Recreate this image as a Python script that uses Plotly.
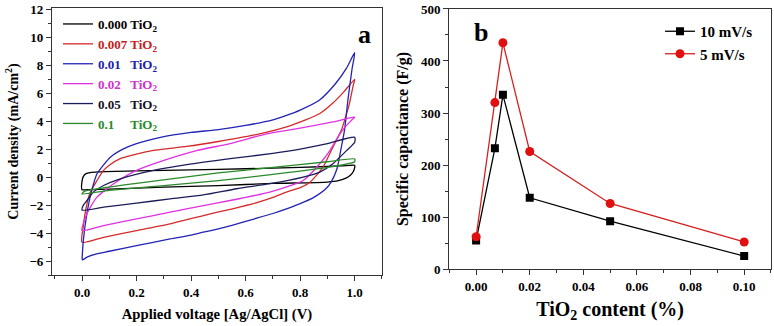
import plotly.graph_objects as go

# ---------------- Panel a: CV curves ----------------
v_000 = [0, 0, 0.005, 0.015, 0.03, 0.06, 0.2, 0.4, 0.6, 0.8, 0.95, 1.0,
         1.0, 0.995, 0.985, 0.97, 0.94, 0.9, 0.7, 0.5, 0.3, 0.1, 0.02, 0]
i_000 = [-0.9, -0.3, 0.05, 0.25, 0.33, 0.38, 0.45, 0.52, 0.6, 0.7, 0.8, 0.85,
         0.7, 0.4, 0.15, -0.05, -0.25, -0.35, -0.45, -0.6, -0.72, -0.85, -0.9, -0.9]

v_007 = [0, 0.005, 0.015, 0.03, 0.055, 0.079, 0.1, 0.14, 0.2, 0.262, 0.384, 0.5, 0.628, 0.75, 0.82, 0.872, 0.92, 0.96, 1.0,
         0.995, 0.98, 0.965, 0.951, 0.92, 0.884, 0.836, 0.8, 0.75, 0.7, 0.628, 0.543, 0.445, 0.323, 0.2, 0.079, 0]
i_007 = [-4.66, -3.5, -2.2, -1.1, -0.24, 0.48, 0.85, 1.32, 1.65, 1.91, 2.2, 2.55, 3.0, 3.6, 4.1, 4.55, 5.3, 6.1, 7.0,
         6.6, 5.2, 4.2, 3.35, 2.15, 0.72, -0.36, -0.75, -1.07, -1.45, -1.9, -2.3, -2.75, -3.34, -3.82, -4.3, -4.66]

v_010 = [0, 0.005, 0.018, 0.035, 0.055, 0.08, 0.104, 0.15, 0.2, 0.3, 0.4, 0.5, 0.6, 0.7, 0.75, 0.8, 0.87, 0.93, 0.97, 1.0,
         0.99, 0.975, 0.963, 0.951, 0.935, 0.915, 0.896, 0.85, 0.8, 0.75, 0.7, 0.63, 0.55, 0.5, 0.445, 0.4, 0.323, 0.2, 0.1, 0.05, 0.02, 0]
i_010 = [-5.9, -4.5, -2.6, -1.0, 0.24, 0.9, 1.43, 2.0, 2.4, 2.9, 3.2, 3.4, 3.7, 4.1, 4.42, 4.8, 5.5, 6.7, 7.8, 8.9,
         7.7, 5.5, 3.4, 2.15, 0.6, -0.3, -0.8, -1.45, -1.9, -2.27, -2.6, -3.0, -3.45, -3.7, -3.94, -4.15, -4.42, -4.9, -5.3, -5.5, -5.7, -5.95]

v_020 = [0, 0.005, 0.018, 0.035, 0.055, 0.08, 0.116, 0.2, 0.3, 0.42, 0.543, 0.677, 0.8, 0.92, 1.0,
         0.99, 0.97, 0.946, 0.909, 0.872, 0.811, 0.75, 0.689, 0.6, 0.543, 0.445, 0.323, 0.2, 0.079, 0]
i_020 = [-3.82, -3.3, -2.62, -2.0, -1.43, -1.0, -0.47, 0.48, 1.2, 1.9, 2.4, 3.1, 3.5, 3.95, 4.3,
         4.1, 3.7, 3.1, 1.9, 0.96, -0.24, -0.7, -1.07, -1.45, -1.67, -2.03, -2.51, -2.98, -3.46, -3.82]

v_050 = [0, 0.005, 0.018, 0.04, 0.079, 0.14, 0.262, 0.384, 0.543, 0.7, 0.8, 0.9, 1.0,
         1.0, 0.97, 0.92, 0.872, 0.811, 0.689, 0.567, 0.445, 0.323, 0.2, 0.079, 0]
i_050 = [-2.35, -2.0, -1.67, -1.1, -0.6, -0.12, 0.48, 0.89, 1.32, 1.7, 2.0, 2.4, 2.85,
         2.5, 1.9, 0.96, 0.36, 0.0, -0.47, -0.83, -1.27, -1.55, -1.86, -2.15, -2.35]

v_100 = [0, 0.01, 0.05, 0.2, 0.4, 0.5, 0.7, 0.9, 1.0,
         1.0, 0.9, 0.7, 0.5, 0.3, 0.1, 0]
i_100 = [-1.2, -1.0, -0.85, -0.45, 0.05, 0.3, 0.7, 1.1, 1.3,
         1.1, 0.7, 0.2, -0.25, -0.6, -0.95, -1.2]

cv_labels = ["0.000 TiO<sub>2</sub>", "0.007 TiO<sub>2</sub>", "0.01   TiO<sub>2</sub>",
             "0.02   TiO<sub>2</sub>", "0.05   TiO<sub>2</sub>", "0.1     TiO<sub>2</sub>"]
cv_colors = ["#000000", "#d42a2a", "#2323b4", "#e030e0", "#1c1c5a", "#2a8a2a"]
cv_text_colors = ["#000000", "#c62020", "#2020b0", "#d030d0", "#111122", "#2a8a2a"]

# ---------------- Panel b: capacitance ----------------
tio2_content = [0, 0.007, 0.01, 0.02, 0.05, 0.1]
cap_10mv = [55, 232, 335, 137, 92, 25]
cap_5mv = [62, 320, 435, 226, 126, 52]

FONT = "Liberation Serif"

fig = go.Figure()

cv_data = [(v_000, i_000), (v_007, i_007), (v_010, i_010), (v_020, i_020), (v_050, i_050), (v_100, i_100)]
for (vv, ii), lab, col, tcol in zip(cv_data, cv_labels, cv_colors, cv_text_colors):
    fig.add_trace(go.Scatter(
        x=vv, y=ii, mode="lines", line=dict(color=col, width=1.3, shape="spline", smoothing=0.6),
        name=f"<span style='color:{tcol}'>{lab}</span>", legend="legend",
        xaxis="x", yaxis="y"))

fig.add_trace(go.Scatter(
    x=tio2_content, y=cap_10mv, mode="lines+markers", name="10 mV/s",
    line=dict(color="black", width=1.3), marker=dict(symbol="square", size=8, color="black"),
    legend="legend2", xaxis="x2", yaxis="y2"))
fig.add_trace(go.Scatter(
    x=tio2_content, y=cap_5mv, mode="lines+markers", name="5 mV/s",
    line=dict(color="#d42020", width=1.3), marker=dict(symbol="circle", size=9, color="#e01010"),
    legend="legend2", xaxis="x2", yaxis="y2"))

tickfont = dict(family=FONT, size=13, color="black", weight="bold")
axis_common = dict(showline=True, linecolor="#333333", linewidth=1.2, mirror=True,
                   ticks="outside", ticklen=5, tickwidth=1.2, tickcolor="#333333",
                   showgrid=False, zeroline=False, tickfont=tickfont, automargin=False)

fig.update_layout(
    width=774, height=326,
    margin=dict(l=0, r=0, t=0, b=0, autoexpand=False),
    paper_bgcolor="white", plot_bgcolor="white",
    font=dict(family=FONT, color="black"),
    xaxis=dict(domain=[0.0672, 0.4935], anchor="y", range=[-0.11, 1.1],
               tickvals=[0, 0.2, 0.4, 0.6, 0.8, 1.0], ticktext=["0.0", "0.2", "0.4", "0.6", "0.8", "1.0"],
               minor=dict(dtick=0.1, tick0=0, ticks="outside", ticklen=3, tickcolor="#333333"),
               title=dict(text="Applied voltage [Ag/AgCl] (V)", font=dict(family=FONT, size=14.7, weight="bold"), standoff=9),
               **axis_common),
    yaxis=dict(domain=[0.1564, 0.9755], anchor="x", range=[-7, 12.1],
               tickvals=[-6, -4, -2, 0, 2, 4, 6, 8, 10, 12],
               minor=dict(dtick=1, tick0=0, ticks="outside", ticklen=3, tickcolor="#333333"),
               title=dict(text="Current density (mA/cm<sup>2</sup>)", font=dict(family=FONT, size=14, weight="bold"), standoff=7),
               **axis_common),
    xaxis2=dict(domain=[0.5805, 0.9961], anchor="y2", range=[-0.01, 0.11],
                tickvals=[0, 0.02, 0.04, 0.06, 0.08, 0.10], ticktext=["0.00", "0.02", "0.04", "0.06", "0.08", "0.10"],
                minor=dict(dtick=0.01, tick0=0, ticks="outside", ticklen=3, tickcolor="#333333"),
                title=dict(text="TiO<sub>2</sub> content (%)", font=dict(family=FONT, size=20, weight="bold"), standoff=9),
                **axis_common),
    yaxis2=dict(domain=[0.1748, 0.9724], anchor="x2", range=[0, 500],
                tickvals=[0, 100, 200, 300, 400, 500],
                minor=dict(dtick=50, tick0=0, ticks="outside", ticklen=3, tickcolor="#333333"),
                title=dict(text="Specific capacitance (F/g)", font=dict(family=FONT, size=16, weight="bold"), standoff=8),
                **axis_common),
    legend=dict(x=58 / 774, y=1 - 9 / 326, xanchor="left", yanchor="top", bgcolor="rgba(0,0,0,0)",
                font=dict(family=FONT, size=13, weight="bold"), itemwidth=30, tracegroupgap=0),
    legend2=dict(x=660 / 774, y=1 - 15 / 326, xanchor="left", yanchor="top", bgcolor="rgba(0,0,0,0)",
                 font=dict(family=FONT, size=15, weight="bold"), itemwidth=30),
    showlegend=True,
    annotations=[
        dict(text="<b>a</b>", x=0.948, y=0.899, xref="x domain", yref="y domain", showarrow=False,
             xanchor="center", yanchor="middle", font=dict(family=FONT, size=26, color="black")),
        dict(text="<b>b</b>", x=0.10, y=0.908, xref="x2 domain", yref="y2 domain", showarrow=False,
             xanchor="center", yanchor="middle", font=dict(family=FONT, size=26, color="black")),
    ],
)

fig.write_html("out.html", config={"displayModeBar": False},
               post_script="document.body.style.margin='0';document.body.style.overflow='hidden';")
